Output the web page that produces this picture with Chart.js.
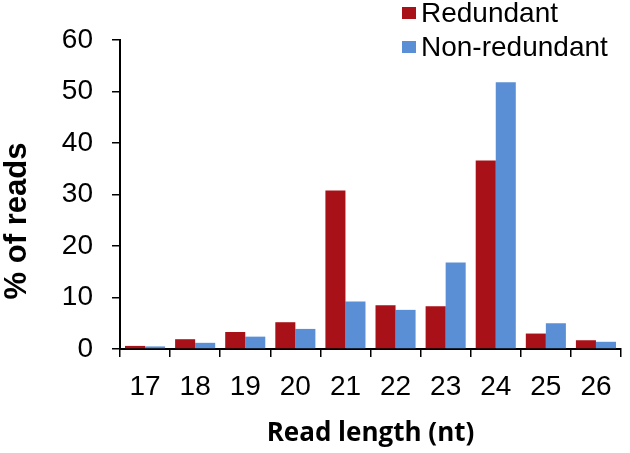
<!DOCTYPE html>
<html>
<head>
<meta charset="utf-8">
<script src="https://cdn.jsdelivr.net/npm/chart.js@4.4.1/dist/chart.umd.min.js"></script>
<style>
html, body { margin: 0; padding: 0; background: #fff; }
#wrap { position: relative; width: 630px; height: 453px; }
#legend { position: absolute; left: 402px; top: -4px; font-family: 'Liberation Sans', Arial, sans-serif; font-size: 28px; color: #000; }
.item { display: flex; align-items: center; height: 34px; }
.box { width: 14px; height: 12px; margin-right: 5px; }
</style>
</head>
<body>
<div id="wrap">
  <canvas id="readChart" width="630" height="453"></canvas>
  <div id="legend"></div>
</div>
<script>
// datos
const readLengths = ['17', '18', '19', '20', '21', '22', '23', '24', '25', '26'];
const redundant = [0.6, 1.9, 3.3, 5.2, 30.8, 8.5, 8.3, 36.6, 3.0, 1.7];
const nonRedundant = [0.5, 1.2, 2.4, 3.9, 9.2, 7.6, 16.8, 51.8, 5.0, 1.4];
const yTicks = [0, 10, 20, 30, 40, 50, 60];
const yTitle = '% of reads';

const redColor = '#A81117';
const blueColor = '#5A8FD6';
const tickFont = { family: "'Liberation Sans', Arial, sans-serif", size: 28 };

// titulo del eje Y un poco mas abajo del centro, como en el original
const yTitlePlugin = {
    id: 'yTitle',
    afterDraw(chart) {
        const c = chart.ctx;
        c.save();
        c.translate(17, 221);
        c.rotate(-Math.PI / 2);
        c.font = "bold 31px 'Liberation Sans', Arial, sans-serif";
        c.fillStyle = '#000';
        c.textAlign = 'center';
        c.textBaseline = 'middle';
        c.fillText(yTitle, 0, 0);
        c.restore();
    }
};

const ctx = document.getElementById('readChart').getContext('2d');
const readChart = new Chart(ctx, {
    type: 'bar',
    data: {
        labels: readLengths,
        datasets: [
            { label: 'Redundant', data: redundant, backgroundColor: redColor },
            { label: 'Non-redundant', data: nonRedundant, backgroundColor: blueColor }
        ]
    },
    options: {
        responsive: false,
        animation: false,
        layout: { padding: { top: 40, right: 9, left: 0, bottom: 0 } },
        datasets: {
            bar: { categoryPercentage: 0.8, barPercentage: 1.0 }
        },
        plugins: {
            legend: { display: false },
            tooltip: { enabled: false }
        },
        scales: {
            x: {
                grid: { offset: true, drawOnChartArea: false, drawTicks: true, tickLength: 8, color: '#000', lineWidth: 1.5 },
                border: { color: '#000', width: 2 },
                ticks: { font: tickFont, color: '#000', padding: 13, maxRotation: 0, autoSkip: false },
                title: {
                    display: true,
                    text: 'Read length (nt)',
                    color: '#000',
                    font: { family: '"Open Sans", Lato, sans-serif', size: 26, weight: 'bold' },
                    padding: { top: 0, bottom: 4 }
                },
                afterFit: scale => { scale.height = 104; }
            },
            y: {
                min: 0,
                max: 60,
                afterBuildTicks: scale => { scale.ticks = yTicks.map(v => ({ value: v })); },
                grid: { drawOnChartArea: false, drawTicks: true, tickLength: 8, color: '#000', lineWidth: 1.5 },
                border: { color: '#000', width: 2 },
                ticks: { font: tickFont, color: '#000', padding: 19 },
                title: { display: false },
                afterFit: scale => { scale.width = 120; }
            }
        }
    },
    plugins: [yTitlePlugin]
});

// leyenda vertical arriba a la derecha
const legendEl = document.getElementById('legend');
readChart.data.datasets.forEach(ds => {
    const item = document.createElement('div');
    item.className = 'item';
    const box = document.createElement('span');
    box.className = 'box';
    box.style.background = ds.backgroundColor;
    const txt = document.createElement('span');
    txt.textContent = ds.label;
    item.appendChild(box);
    item.appendChild(txt);
    legendEl.appendChild(item);
});
</script>
</body>
</html>
